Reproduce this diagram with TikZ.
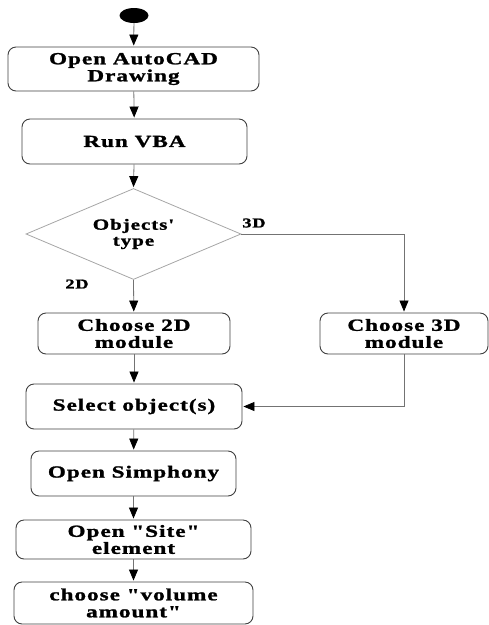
\documentclass[tikz,border=0pt]{standalone}
\usepackage{fontspec}
\setmainfont{Liberation Serif}[Ligatures=TeXOff,FakeStretch=1.36,LetterSpace=6,
  BoldFeatures={FakeBold=1.4}]
\usetikzlibrary{shapes.geometric,arrows.meta}

\begin{document}
\begin{tikzpicture}[x=1pt, y=-1pt,
    activity/.style={draw=black!75, line width=0.9pt, rounded corners=8pt,
      fill=white, align=center, inner sep=0pt,
      font=\fontsize{17}{17}\selectfont\bfseries},
    decision/.style={draw=black!35, line width=0.8pt, diamond, shape aspect=2.36,
      inner sep=0pt, align=center, minimum width=215pt, minimum height=91pt,
      font=\fontsize{15.5}{16}\selectfont\bfseries},
    startdot/.style={ellipse, fill=black, minimum width=29pt, minimum height=15pt,
      inner sep=0pt},
    flow/.style={draw=black!55, line width=0.8pt,
      -{Triangle[length=11pt,width=9pt,color=black]}, shorten >=1pt},
    branch/.style={font=\fontsize{13.5}{14}\selectfont\bfseries, inner sep=0pt}]

  % page frame (pixels of the reference, y downwards)
  \useasboundingbox (0,0) rectangle (489,625);

  % === Main column ===
  \node[startdot] (start) at (134,15.5) {};
  \node[activity, minimum width=251pt, minimum height=44pt] (autocad)
    at (133.5,69) {Open AutoCAD\\Drawing};
  \node[activity, minimum width=225pt, minimum height=45pt] (vba)
    at (134.5,141.5) {Run VBA};
  \node[decision] (objtype) at (133.5,234) {Objects'\\type};

  % --- Two modules ---
  \node[activity, minimum width=192pt, minimum height=41pt] (mod2d)
    at (134,333.5) {Choose 2D\\module};
  \node[activity, minimum width=168pt, minimum height=41pt] (mod3d)
    at (404,333.5) {Choose 3D\\module};

  % --- After selection ---
  \node[activity, minimum width=216pt, minimum height=45pt] (select)
    at (134,406.5) {Select object(s)};
  \node[activity, minimum width=205pt, minimum height=45pt] (simphony)
    at (133.5,473.5) {Open Simphony};
  \node[activity, minimum width=235pt, minimum height=39pt] (site)
    at (133.5,539.5) {Open "Site"\\element};
  \node[activity, minimum width=239pt, minimum height=42pt] (volume)
    at (133.5,603) {choose "volume\\amount"};

  % branch labels
  \node[branch] (lbl3d) at (254,223) {3D};
  \node[branch] (lbl2d) at (77,284) {2D};

  % === Connectors ===
  \draw[flow] (start) -- (autocad);
  \draw[flow] (autocad) -- (vba);
  \draw[flow] (vba) -- (objtype.north);
  \draw[flow] (objtype.south) -- (mod2d);
  \draw[flow] (objtype.east) -| (mod3d.north);
  \draw[flow] (mod2d) -- (select);
  \draw[flow] (mod3d.south) |- (select.east);
  \draw[flow] (select) -- (simphony);
  \draw[flow] (simphony) -- (site);
  \draw[flow] (site) -- (volume);

\end{tikzpicture}
\end{document}
